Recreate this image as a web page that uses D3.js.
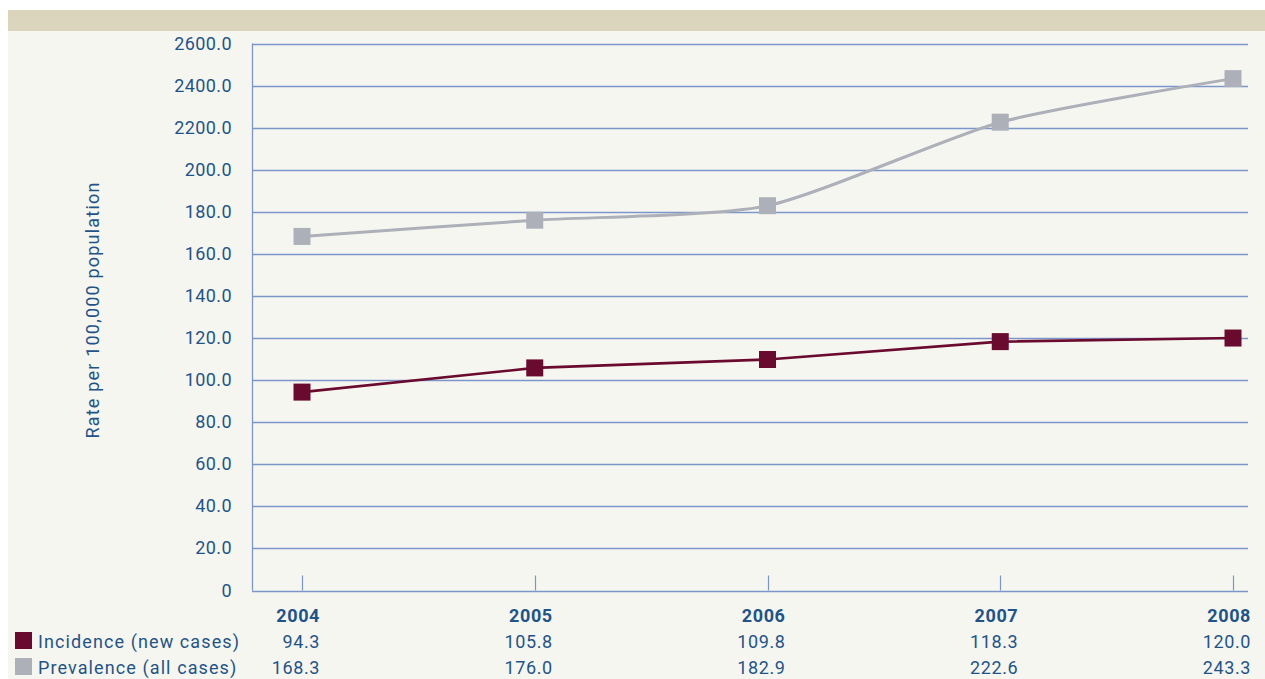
<!DOCTYPE html>
<html lang="en">
<head>
<meta charset="UTF-8">
<title>Incidence and prevalence</title>
<style>
  body { margin: 0; background: #fff; }
  svg { display: block; font-family: Roboto, "DejaVu Sans", sans-serif; }
</style>
</head>
<body>
<svg width="1265" height="679"></svg>
<script src="https://cdn.jsdelivr.net/npm/d3@7/dist/d3.min.js"></script>
<script>
const years = ['2004', '2005', '2006', '2007', '2008'];
const incidence = [94.3, 105.8, 109.8, 118.3, 120.0];
const prevalence = [168.3, 176.0, 182.9, 222.6, 243.3];
const yTicks = [0, 20, 40, 60, 80, 100, 120, 140, 160, 180, 200, 220, 240, 260];
// tick labels as printed in the original (including its typos)
const yTickLabels = ['0', '20.0', '40.0', '60.0', '80.0', '100.0', '120.0', '140.0',
  '160.0', '180.0', '200.0', '2200.0', '2400.0', '2600.0'];
const seriesNames = ['Incidence (new cases)', 'Prevalence (all cases)'];

const textColor = '#1f5488';
const gridColor = '#7b97c9';
const incColor = '#6a0a2f';
const prevColor = '#adb0b8';

const svg = d3.select('svg');

// background + header band
svg.append('rect').attr('x', 8).attr('y', 10).attr('width', 1257).attr('height', 669).attr('fill', '#f6f6f1');
svg.append('rect').attr('x', 8).attr('y', 10).attr('width', 1257).attr('height', 21).attr('fill', '#dad5bc');

const left = 252, right = 1248;

const x = d3.scalePoint().domain(years).range([302, 1233]);
const y = d3.scaleLinear().domain([0, 260]).range([590.5, 43.5]);

// gridlines
svg.append('g')
  .selectAll('line')
  .data(yTicks)
  .join('line')
  .attr('x1', left).attr('x2', right)
  .attr('y1', d => Math.round(y(d)) + 0.5).attr('y2', d => Math.round(y(d)) + 0.5)
  .attr('stroke', gridColor).attr('stroke-width', 1.3);

// y axis line
svg.append('line')
  .attr('x1', left + 0.5).attr('x2', left + 0.5)
  .attr('y1', y(260)).attr('y2', y(0))
  .attr('stroke', gridColor).attr('stroke-width', 1.3);

// y tick labels
svg.append('g')
  .selectAll('text')
  .data(yTicks)
  .join('text')
  .attr('x', 232)
  .attr('y', d => y(d) + 6)
  .attr('text-anchor', 'end')
  .attr('fill', textColor)
  .attr('font-size', 18)
  .attr('letter-spacing', 0.4)
  .text((d, i) => yTickLabels[i]);

// x ticks
svg.append('g')
  .selectAll('line')
  .data(years)
  .join('line')
  .attr('x1', d => Math.round(x(d)) + 0.5).attr('x2', d => Math.round(x(d)) + 0.5)
  .attr('y1', y(0) - 15).attr('y2', y(0))
  .attr('stroke', gridColor).attr('stroke-width', 1.2);

// y axis title
svg.append('text')
  .attr('transform', 'translate(99, 310) rotate(-90)')
  .attr('text-anchor', 'middle')
  .attr('fill', textColor)
  .attr('font-size', 18)
  .attr('letter-spacing', 1.2)
  .text('Rate per 100,000 population');

// lines
const incLine = d3.line().x((d, i) => x(years[i])).y(d => y(d));
const prevLine = d3.line().x((d, i) => x(years[i])).y(d => y(d)).curve(d3.curveCardinal.tension(0.35));

svg.append('path').datum(prevalence)
  .attr('d', prevLine).attr('fill', 'none')
  .attr('stroke', prevColor).attr('stroke-width', 3);
svg.append('path').datum(incidence)
  .attr('d', incLine).attr('fill', 'none')
  .attr('stroke', incColor).attr('stroke-width', 2.6);

const m = 17;
svg.append('g').selectAll('rect').data(prevalence).join('rect')
  .attr('x', (d, i) => x(years[i]) - m / 2).attr('y', d => y(d) - m / 2)
  .attr('width', m).attr('height', m).attr('fill', prevColor);
svg.append('g').selectAll('rect').data(incidence).join('rect')
  .attr('x', (d, i) => x(years[i]) - m / 2).attr('y', d => y(d) - m / 2)
  .attr('width', m).attr('height', m).attr('fill', incColor);

// data table
const colX = d => x(d) + 18;
svg.append('g').selectAll('text').data(years).join('text')
  .attr('x', colX).attr('y', 622)
  .attr('text-anchor', 'end').attr('fill', textColor)
  .attr('font-size', 18).attr('font-weight', 'bold')
  .attr('letter-spacing', 0.6)
  .text(d => d);

const rows = [incidence, prevalence];
const rowColors = [incColor, prevColor];
const rowY = [648, 674];

rows.forEach((vals, r) => {
  svg.append('rect')
    .attr('x', 15).attr('y', rowY[r] - 16)
    .attr('width', 17).attr('height', 17)
    .attr('fill', rowColors[r]);
  svg.append('text')
    .attr('x', 38).attr('y', rowY[r])
    .attr('fill', textColor).attr('font-size', 18)
    .attr('letter-spacing', 1.1)
    .text(seriesNames[r]);
  svg.append('g').selectAll('text').data(vals).join('text')
    .attr('x', (d, i) => colX(years[i])).attr('y', rowY[r])
    .attr('text-anchor', 'end').attr('fill', textColor)
    .attr('font-size', 18)
    .attr('letter-spacing', 0.6)
    .text(d => d.toFixed(1));
});
</script>
</body>
</html>
